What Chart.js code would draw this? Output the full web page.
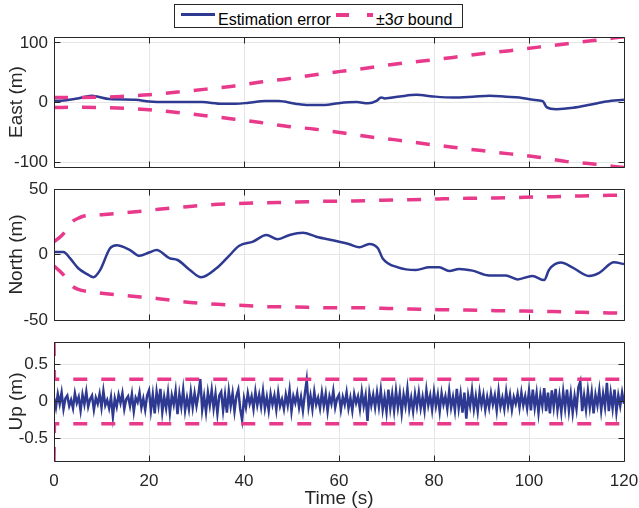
<!DOCTYPE html>
<html>
<head>
<meta charset="utf-8">
<script src="https://cdn.jsdelivr.net/npm/chart.js@4.4.1/dist/chart.umd.min.js"></script>
<style>
html,body{margin:0;padding:0;background:#fff;}
#wrap{position:relative;width:639px;height:508px;overflow:hidden;font-family:"Liberation Sans",Arial,sans-serif;}
#wrap canvas{position:absolute;left:0;top:0;}
#legend{position:absolute;left:174px;top:4px;width:287px;height:22px;border:1px solid #262626;background:#fff;color:#000;font-size:16px;line-height:16px;font-family:"Liberation Sans",Arial,sans-serif;}
#legend .t{position:absolute;top:7px;white-space:nowrap;}
#legend .ln{position:absolute;}
</style>
</head>
<body>
<div id="wrap">
<canvas id="c1" width="639" height="508"></canvas>
<canvas id="c2" width="639" height="508"></canvas>
<canvas id="c3" width="639" height="508"></canvas>
<div id="legend">
  <div class="ln" style="left:6px;top:8px;width:34px;height:3px;background:#2e3a92;"></div>
  <span class="t" style="left:43px;">Estimation error</span>
  <div class="ln" style="left:161px;top:8px;width:13px;height:3.5px;background:#e8398b;"></div>
  <div class="ln" style="left:192px;top:8px;width:6px;height:3.5px;background:#e8398b;"></div>
  <span class="t" style="left:201px;">&plusmn;3<i>&sigma;</i> bound</span>
</div>
</div>
<script>
// ---------- DATA ----------
const timeTicks = [0, 20, 40, 60, 80, 100, 120];
const eastTicks = [-100, 0, 100];
const northTicks = [-50, 0, 50];
const upTicks = [-0.5, 0, 0.5];

// East
const eastTime  = [0, 2, 5, 7.9, 11.7, 17.2, 20, 23.5, 27, 31.2, 35.4, 38.2, 41, 44.5, 47.3, 50.8, 53.6, 57, 59.9, 63.7, 66.1, 67.9, 68.9, 69.6, 72.8, 76.3, 79.8, 84, 88.2, 91.7, 95.2, 98, 100.8, 102.9, 103.7, 105.8, 109.3, 112.8, 116.3, 120];
const eastError = [3, 3.6, 7, 11.4, 5.9, 4.7, 1.9, 0.8, 1, 0.8, -2, -2, -0.3, 2.5, 2.5, -2, -4.2, -4, -1, 0.8, -1, 3, 8.6, 7, 10.3, 13, 10.3, 8.5, 9.8, 11.4, 9.8, 8.6, 4.7, 2.5, -7.6, -11, -8.7, -3.7, 1.9, 4.7];
const eastBoundTime = [0, 5, 10, 15, 20, 26, 32, 38, 43.5, 49.3, 55, 61, 66, 72, 78, 84, 90, 96, 102, 108, 113.5, 120];
const eastUpper = [8.6, 8.5, 9, 10.8, 13, 17.6, 22.6, 28, 34.4, 40, 46.7, 53, 58, 64.7, 70, 75.8, 82, 87, 93, 98.8, 104, 110.5];
const eastLower = [-8.2, -7.9, -8.3, -9.5, -12, -16.6, -22, -27.8, -33.4, -40, -44.6, -51, -57, -62.5, -69, -74.8, -80.5, -86, -91.6, -99, -103, -109];

// North
const northTime  = [0, 2, 3.4, 5.1, 7, 8.3, 9.7, 11.8, 13.2, 16, 18, 20, 21.6, 24.4, 26, 28.6, 31, 34.2, 37, 39, 41.9, 44.7, 47.1, 49.6, 52.4, 55.2, 59.4, 62.2, 64.3, 66.4, 68.2, 69.2, 72.4, 76.2, 79, 81.1, 83.2, 85.3, 88.1, 91.6, 95.1, 97.6, 100.7, 103.2, 104.2, 106.7, 109.1, 112.6, 114.8, 117.9, 120];
const northError = [2, 2, -3, -10.5, -15, -17.4, -12, 4.7, 7, 3.4, -1, 1.5, 3.4, -3, -4.2, -11.8, -17.4, -10.5, -0.4, 6.7, 9.8, 14.9, 11.6, 14.9, 16.6, 13.6, 10.3, 7.8, 5.5, 8, 4.7, -3, -9.8, -11.8, -9.8, -9.8, -12.6, -11, -12.3, -16, -16, -19, -16.4, -19.5, -11.8, -6.2, -9.8, -16.4, -14, -6, -7.3];
const northUpperTime = [0, 1, 2, 3, 4, 5, 6, 8, 10, 16, 22, 28, 33, 39, 45, 51, 57, 63, 69, 75, 81, 87, 93, 99, 105, 111, 117, 120];
const northUpper = [9.8, 12.5, 16, 21, 25.5, 27.5, 29, 30, 30.4, 32.2, 34.5, 36.5, 38, 39, 39.5, 40, 40.6, 40.8, 41.4, 41.8, 42.4, 42.9, 43.1, 43.7, 44.1, 44.7, 45.2, 45.4];
const northLowerTime = [0, 1, 2, 3, 4, 5, 6, 8, 10, 16, 22, 27, 33, 39, 45, 51, 57, 63, 69, 75, 81, 87, 93, 99, 105, 111, 117, 120];
const northLower = [-8.8, -12, -15.6, -20.5, -24.5, -26.5, -27.6, -28.8, -29.6, -31.7, -33.7, -36, -37.8, -38.8, -39.8, -40.1, -40.6, -40.6, -41.1, -41.6, -42.1, -42.4, -42.9, -43.1, -43.6, -44.1, -44.6, -44.8];

// Up (sampled every upDt seconds)
const upDt = 0.4;
const upError = [
  0.05,-0.08,0.10,-0.03,0.12,-0.10,0.04,0.08,-0.06,0.02,
  -0.09,0.11,-0.02,0.06,-0.12,0.09,-0.04,0.13,-0.07,0.03,
  0.08,-0.11,0.05,-0.03,0.10,-0.08,0.14,-0.05,0.02,-0.09,
  0.06,-0.20,0.04,-0.07,0.09,-0.02,0.11,-0.10,0.03,0.07,
  -0.06,0.10,-0.13,0.05,-0.01,0.12,-0.08,0.04,-0.11,0.08,
  0.15,-0.12,0.09,-0.16,0.13,-0.05,0.17,-0.14,0.06,-0.09,
  0.12,-0.15,0.08,-0.04,0.14,-0.17,0.10,-0.07,0.16,-0.12,
  0.05,-0.10,0.13,-0.08,0.11,-0.06,0.09,0.30,-0.11,0.07,
  -0.14,0.12,-0.05,0.15,-0.09,0.10,-0.16,0.08,0.13,-0.12,
  0.09,-0.15,0.14,-0.06,0.11,-0.13,0.07,0.16,-0.10,-0.25,
  0.04,-0.08,0.11,-0.03,0.07,-0.10,0.13,-0.05,0.09,-0.07,
  0.14,-0.09,0.06,-0.12,0.10,-0.04,0.08,-0.11,0.12,-0.06,
  0.03,-0.10,0.09,-0.05,0.15,-0.13,0.07,-0.02,0.11,-0.08,
  0.06,-0.12,0.10,0.29,-0.07,0.08,-0.10,0.13,-0.04,0.05,
  -0.09,0.12,-0.06,0.10,-0.13,0.07,-0.03,0.14,-0.08,0.04,
  0.09,-0.11,0.06,-0.04,0.12,-0.09,0.05,-0.12,0.10,-0.02,
  0.07,-0.10,0.13,-0.06,0.08,-0.26,0.11,-0.05,0.09,-0.08,
  0.12,-0.07,0.15,-0.11,0.06,-0.14,0.16,-0.09,0.10,-0.12,
  0.14,-0.08,0.11,-0.15,0.09,-0.06,0.17,-0.10,0.05,-0.13,
  0.10,-0.07,0.12,-0.09,0.06,-0.12,0.15,-0.05,0.08,-0.11,
  0.13,-0.06,0.09,-0.13,0.11,-0.04,0.07,-0.10,0.14,-0.08,
  0.06,-0.12,0.17,-0.09,0.10,-0.15,0.12,-0.23,0.08,-0.06,
  0.15,-0.10,0.07,-0.13,0.12,-0.05,0.09,-0.11,0.06,-0.08,
  0.11,-0.04,0.08,-0.12,0.14,-0.07,0.05,-0.10,0.13,-0.06,
  0.09,-0.11,0.06,-0.03,0.10,-0.08,0.12,-0.05,0.07,-0.09,
  0.14,-0.12,0.16,-0.08,0.11,-0.15,0.09,-0.06,0.18,-0.13,
  0.12,-0.16,0.15,-0.07,0.17,-0.11,0.08,-0.14,0.13,-0.09,
  0.16,-0.12,0.10,-0.15,0.07,-0.10,0.19,0.27,-0.13,0.08,
  -0.11,0.14,-0.08,0.12,-0.16,0.09,-0.05,0.15,-0.12,0.10,
  -0.07,0.25,-0.13,0.11,-0.09,0.16,-0.14,0.08,-0.06,0.12,
  -0.03
];
const upBoundTime = [0, 0.1, 120];
const upUpper = [0.8, 0.3, 0.3];
const upLower = [-0.8, -0.3, -0.3];

// ---------- STYLE ----------
const BLUE = '#2e3a92';
const PINK = '#e8398b';
const GRID = '#e6e6e6';
const TXT = '#262626';
const FONT = "'Liberation Sans', Arial, sans-serif";

const pts = (ts, vs) => ts.map((t, i) => ({x: t, y: vs[i]}));

const framePlugin = {
  id: 'frame',
  afterDatasetsDraw(chart) {
    const {ctx, chartArea: a, scales: {x, y}} = chart;
    const L = Math.floor(a.left) + 0.5, R = Math.floor(a.right) + 0.5;
    const T = Math.floor(a.top) + 0.5, B = Math.floor(a.bottom) + 0.5;
    ctx.save();
    ctx.strokeStyle = TXT;
    ctx.lineWidth = 1;
    ctx.beginPath();
    x.ticks.forEach(t => {
      const px = Math.floor(x.getPixelForValue(t.value)) + 0.5;
      ctx.moveTo(px, B); ctx.lineTo(px, B - 6);
      ctx.moveTo(px, T); ctx.lineTo(px, T + 6);
    });
    y.ticks.forEach(t => {
      const py = Math.floor(y.getPixelForValue(t.value)) + 0.5;
      ctx.moveTo(L, py); ctx.lineTo(L + 6, py);
      ctx.moveTo(R, py); ctx.lineTo(R - 6, py);
    });
    ctx.moveTo(L, T); ctx.lineTo(R, T); ctx.lineTo(R, B); ctx.lineTo(L, B); ctx.closePath();
    ctx.stroke();
    ctx.restore();
  }
};

function makePanel(id, p) {
  const errDs = {
    data: p.err, borderColor: BLUE, borderWidth: p.errWidth, pointRadius: 0,
    fill: false, tension: 0, cubicInterpolationMode: p.smooth ? 'monotone' : 'default', order: 1
  };
  const bDs = d => ({
    data: d, borderColor: PINK, borderWidth: 3.5, borderDash: [14, 14], borderCapStyle: 'butt',
    pointRadius: 0, fill: false, cubicInterpolationMode: 'monotone', order: 0
  });
  return new Chart(document.getElementById(id), {
    type: 'line',
    data: {datasets: [errDs, bDs(p.upper), bDs(p.lower)]},
    options: {
      responsive: false, animation: false, events: [],
      layout: {autoPadding: false, padding: {left: 0, right: 15, top: p.top, bottom: p.padBottom}},
      plugins: {legend: {display: false}, tooltip: {enabled: false}},
      scales: {
        x: {
          type: 'linear', min: 0, max: 120,
          afterBuildTicks: ax => { ax.ticks = timeTicks.map(v => ({value: v})); },
          afterFit: ax => { ax.height = p.xHeight; ax.paddingLeft = 0; ax.paddingRight = 0; },
          grid: {color: GRID, drawTicks: false, lineWidth: 1},
          border: {display: false},
          ticks: {display: p.showX, padding: 10, maxRotation: 0, color: TXT, font: {family: FONT, size: 17}},
          title: {display: p.showX, text: 'Time (s)', color: TXT, font: {family: FONT, size: 19}, padding: {top: 0, bottom: -2}}
        },
        y: {
          type: 'linear', min: p.ymin, max: p.ymax,
          afterBuildTicks: ax => { ax.ticks = p.yTicks.map(v => ({value: v})); },
          afterFit: ax => { ax.width = 54; ax.paddingTop = 0; ax.paddingBottom = 0; },
          grid: {color: GRID, drawTicks: false, lineWidth: 1},
          border: {display: false},
          ticks: {padding: 6, color: TXT, font: {family: FONT, size: 17}},
          title: {display: true, text: p.yTitle, color: TXT, font: {family: FONT, size: 19}, padding: {top: 5, bottom: 0}}
        }
      }
    },
    plugins: [framePlugin]
  });
}

makePanel('c1', {
  err: pts(eastTime, eastError), upper: pts(eastBoundTime, eastUpper), lower: pts(eastBoundTime, eastLower),
  errWidth: 2.5, smooth: true, ymin: -108, ymax: 110, yTicks: eastTicks, yTitle: 'East (m)',
  top: 37, padBottom: 508 - 167, xHeight: 0, showX: false
});
makePanel('c2', {
  err: pts(northTime, northError), upper: pts(northUpperTime, northUpper), lower: pts(northLowerTime, northLower),
  errWidth: 2.5, smooth: true, ymin: -50, ymax: 50, yTicks: northTicks, yTitle: 'North (m)',
  top: 189, padBottom: 508 - 320, xHeight: 0, showX: false
});
makePanel('c3', {
  err: upError.map((v, i) => ({x: i * upDt, y: v})), upper: pts(upBoundTime, upUpper), lower: pts(upBoundTime, upLower),
  errWidth: 2.5, smooth: false, ymin: -0.8, ymax: 0.8, yTicks: upTicks, yTitle: 'Up (m)',
  top: 342, padBottom: 0, xHeight: 508 - 461, showX: true
});
</script>
</body>
</html>
